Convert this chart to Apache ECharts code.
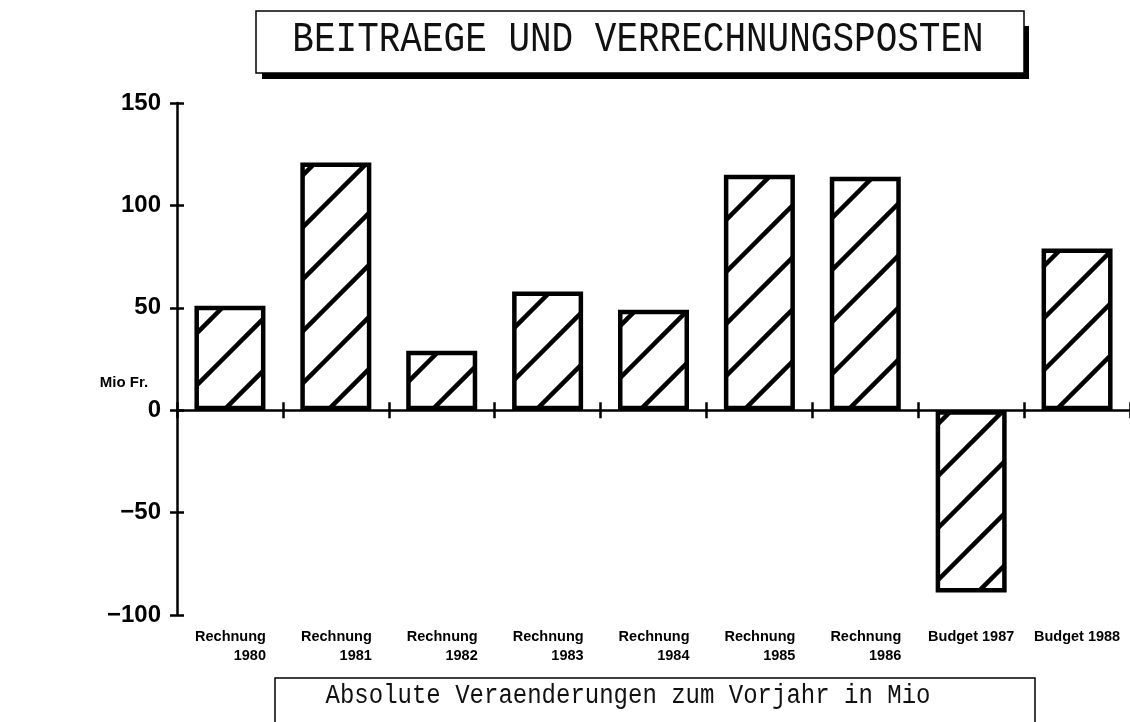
<!DOCTYPE html>
<html>
<head>
<meta charset="utf-8">
<script src="https://cdn.jsdelivr.net/npm/echarts@6/dist/echarts.min.js"></script>
<style>
    html, body { margin: 0; padding: 0; background: #fff; }
    #chart { width: 1130px; height: 722px; }
</style>
</head>
<body>
<div id="chart"></div>
<script>
var categories = ['Rechnung\n1980', 'Rechnung\n1981', 'Rechnung\n1982', 'Rechnung\n1983', 'Rechnung\n1984',
    'Rechnung\n1985', 'Rechnung\n1986', 'Budget 1987', 'Budget 1988'];
var values = [51, 121, 29, 58, 49, 115, 114, -89, 79];
var yMin = -100, yMax = 150, yStep = 50;

var titleText = 'BEITRAEGE UND VERRECHNUNGSPOSTEN';
var footText = 'Absolute Veraenderungen zum Vorjahr in Mio';
var unitText = 'Mio Fr.';

// diagonal hatching, tiles of 52px
function makeHatch() {
    var s = 52;
    var c = document.createElement('canvas');
    c.width = s; c.height = s;
    var g = c.getContext('2d');
    g.fillStyle = '#fff';
    g.fillRect(0, 0, s, s);
    g.strokeStyle = '#000';
    g.lineWidth = 4.5;
    [10, 62].forEach(function (k) {
        g.beginPath();
        g.moveTo(k + 6, -6);
        g.lineTo(k - s - 6, s + 6);
        g.stroke();
    });
    return c;
}

var myChart = echarts.init(document.getElementById('chart'));
var black = '#000';
var mono = '"Liberation Mono", "DejaVu Sans Mono", monospace';
var sans = '"Liberation Sans", Arial, sans-serif';
var box = { left: 177, top: 103, width: 957, height: 512 };
var tickStyle = { color: black, width: 2.5 };

// grid 0: the drawn axes, grid 1: the inner half of each tick, grid 2: category labels
var option = {
    animation: false,
    backgroundColor: '#fff',
    grid: [box, box, box],
    xAxis: [
        {
            type: 'category', gridIndex: 0, data: categories,
            axisLine: { onZero: true, lineStyle: { color: black, width: 2.5 } },
            axisTick: { show: true, interval: 0, length: 8, lineStyle: tickStyle },
            axisLabel: { show: false },
            splitLine: { show: false }
        },
        {
            type: 'category', gridIndex: 1, data: categories,
            axisLine: { show: false, onZero: true },
            axisTick: { show: true, inside: true, interval: 0, length: 8, lineStyle: tickStyle },
            axisLabel: { show: false },
            splitLine: { show: false }
        },
        {
            type: 'category', gridIndex: 2, data: categories,
            axisLine: { show: false, onZero: false },
            axisTick: { show: false },
            axisLabel: {
                interval: 0,
                margin: 12,
                formatter: function (v) {
                    var p = v.split('\n');
                    if (p.length === 2) return '{r|' + p[0] + '}\n{r|' + p[1] + '}';
                    return '{b|' + v + '}';
                },
                rich: {
                    r: { width: 72, align: 'right', fontSize: 14.5, fontWeight: 'bold', fontFamily: sans, color: black, lineHeight: 19 },
                    b: { fontSize: 14.5, fontWeight: 'bold', fontFamily: sans, color: black, lineHeight: 19 }
                }
            },
            splitLine: { show: false }
        }
    ],
    yAxis: [
        {
            type: 'value', gridIndex: 0,
            min: yMin, max: yMax, interval: yStep,
            axisLine: { show: true, lineStyle: { color: black, width: 2.5 } },
            axisTick: { show: true, length: 7, lineStyle: tickStyle },
            axisLabel: {
                margin: 16, fontSize: 24, fontWeight: 'bold', fontFamily: sans, color: black,
                formatter: function (v) { return String(v).replace('-', '\u2212'); }
            },
            splitLine: { show: false }
        },
        {
            type: 'value', gridIndex: 1,
            min: yMin, max: yMax, interval: yStep,
            axisLine: { show: false },
            axisTick: { show: true, inside: true, length: 7, lineStyle: tickStyle },
            axisLabel: { show: false },
            splitLine: { show: false }
        },
        {
            type: 'value', gridIndex: 2,
            min: yMin, max: yMax, interval: yStep,
            show: false
        }
    ],
    series: [{
        type: 'bar',
        xAxisIndex: 0,
        yAxisIndex: 0,
        barWidth: 71,
        data: values,
        itemStyle: {
            color: { image: makeHatch(), repeat: 'repeat' },
            borderColor: black,
            borderWidth: 4.5
        }
    }],
    graphic: [
        // title box with heavy shadow
        { type: 'rect', z: 10, shape: { x: 262, y: 72, width: 767, height: 7 }, style: { fill: black } },
        { type: 'rect', z: 10, shape: { x: 1022, y: 26, width: 7, height: 53 }, style: { fill: black } },
        { type: 'rect', z: 11, shape: { x: 256, y: 11, width: 768, height: 62 }, style: { fill: '#fff', stroke: black, lineWidth: 1.5 } },
        {
            type: 'text', z: 12, x: 638, y: 40, scaleY: 1.2,
            style: { text: titleText, font: '36px ' + mono, fill: '#111', align: 'center', verticalAlign: 'middle' }
        },
        // footer box
        { type: 'rect', z: 10, shape: { x: 275, y: 678, width: 760, height: 60 }, style: { fill: '#fff', stroke: black, lineWidth: 1.5 } },
        {
            type: 'text', z: 12, x: 628, y: 696, scaleY: 1.15,
            style: { text: footText, font: '24px ' + mono, fill: '#111', align: 'center', verticalAlign: 'middle' }
        },
        // unit label
        {
            type: 'text', z: 12, x: 124, y: 383,
            style: { text: unitText, font: 'bold 15px ' + sans, fill: black, align: 'center', verticalAlign: 'middle' }
        }
    ]
};

myChart.setOption(option);
</script>
</body>
</html>
